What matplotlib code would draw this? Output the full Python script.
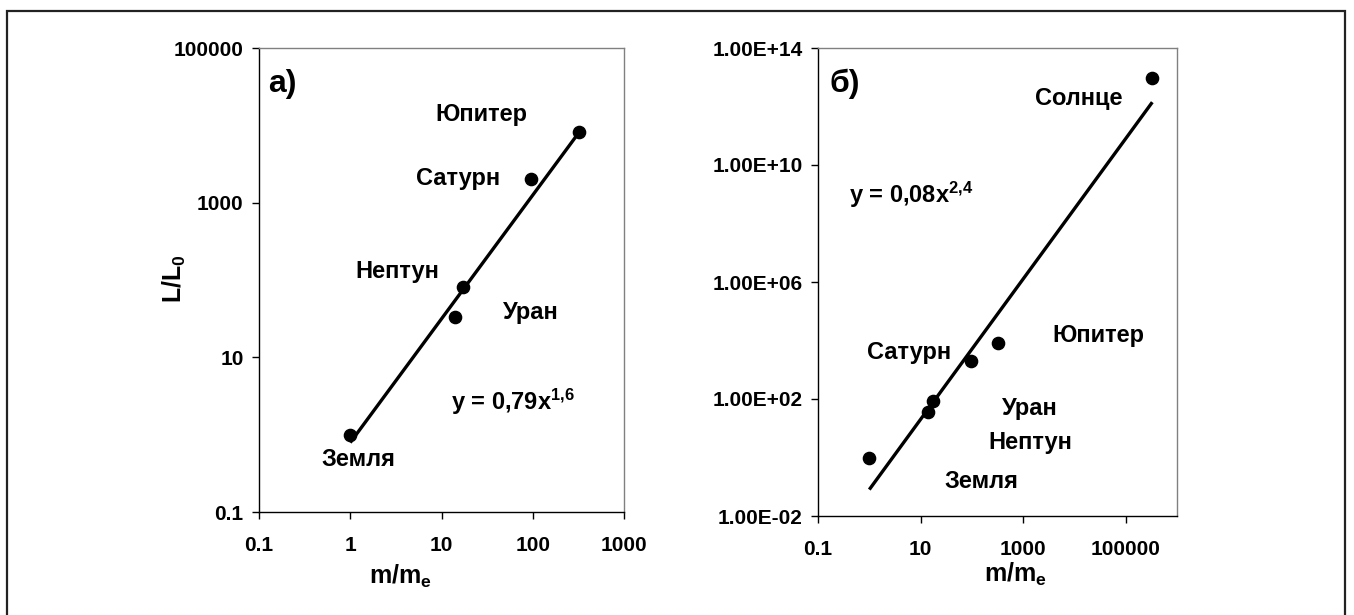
import matplotlib
matplotlib.use('Agg')
import numpy as np
import matplotlib.pyplot as plt
from matplotlib.patches import Rectangle

# planets (and the Sun on panel b): mass in Earth masses, luminosity in Earth units
names = ['Земля', 'Уран', 'Нептун', 'Сатурн', 'Юпитер']
mass = [1.0, 14.0, 17.3, 95.0, 320.0]
lum_a = [1.0, 33.0, 81.0, 2000.0, 8100.0]
lum_b = [1.0, 35.0, 85.0, 2000.0, 8100.0]
sun_mass = 3.3e5
sun_lum = 9.8e12

# trend lines printed on the chart: y = k * x^p, drawn between x0 and x1
fit_a = (0.79, 1.6, 1.0, 318.0)
fit_b = (0.08, 2.4, 1.0, 3.3e5)

xticks_a = [0.1, 1, 10, 100, 1000]
xticklabels_a = ['0.1', '1', '10', '100', '1000']
yticks_a = [0.1, 10, 1000, 100000]
yticklabels_a = ['0.1', '10', '1000', '100000']
xticks_b = [0.1, 10, 1000, 100000]
xticklabels_b = ['0.1', '10', '1000', '100000']
yticks_b = [1e-2, 1e2, 1e6, 1e10, 1e14]
yticklabels_b = ['1.00E-02', '1.00E+02', '1.00E+06', '1.00E+10', '1.00E+14']

plt.rcParams['font.family'] = ['Liberation Sans', 'DejaVu Sans']
plt.rcParams['font.weight'] = 'bold'
plt.rcParams['mathtext.fontset'] = 'custom'
plt.rcParams['mathtext.rm'] = 'Liberation Sans:bold'
plt.rcParams['mathtext.it'] = 'Liberation Sans:bold'
plt.rcParams['mathtext.bf'] = 'Liberation Sans:bold'

W, H = 1354, 615
fig = plt.figure(figsize=(W / 100, H / 100), dpi=100)

LBL = 17     # planet labels / equations
TCK = 15     # tick labels
AXL = 18     # axis titles


def px_axes(x0, x1, ytop, ybot):
    return fig.add_axes([x0 / W, (H - ybot) / H, (x1 - x0) / W, (ybot - ytop) / H])


def style(ax, xpad):
    ax.set_xscale('log')
    ax.set_yscale('log')
    for s in ['top', 'right']:
        ax.spines[s].set_color('#808080')
    for s in ['left', 'bottom']:
        ax.spines[s].set_color('black')
    for s in ax.spines.values():
        s.set_linewidth(1.0)
    ax.tick_params(axis='both', direction='out', length=5, width=1, labelsize=TCK)
    ax.tick_params(axis='x', pad=xpad)
    ax.tick_params(axis='y', pad=6)


def trend(ax, fit):
    k, p, x0, x1 = fit
    xs = np.array([x0, x1])
    ax.plot(xs, k * xs ** p, color='black', lw=2.4, solid_capstyle='butt', zorder=2)


txt = dict(fontsize=LBL, fontweight='bold', ha='center', va='center')

# ---- panel a
ax1 = px_axes(259, 624, 48, 512)
style(ax1, 12)
trend(ax1, fit_a)
ax1.plot(mass, lum_a, 'o', color='black', ms=8.8, zorder=3)
ax1.set_xlim(0.1, 1000)
ax1.set_ylim(0.1, 100000)
ax1.set_xticks(xticks_a, xticklabels_a)
ax1.set_yticks(yticks_a, yticklabels_a)
ax1.minorticks_off()
ax1.set_xlabel('m/m$_e$', fontsize=AXL, fontweight='bold', va='center')
ax1.xaxis.set_label_coords(0.386, -0.138)
ax1.set_ylabel('L/L$_0$', fontsize=AXL, fontweight='bold', va='center')
ax1.yaxis.set_label_coords(-0.233, 0.504)

pos_a = {'Юпитер': (0.608, 0.856), 'Сатурн': (0.545, 0.718), 'Нептун': (0.378, 0.519),
         'Уран': (0.745, 0.431), 'Земля': (0.271, 0.114)}
for n in names:
    ax1.text(*pos_a[n], n, transform=ax1.transAxes, **txt)
ax1.text(0.696, 0.237, 'y = 0,79x$^{1{,}6}$', transform=ax1.transAxes, **txt)
ax1.text(0.025, 0.922, 'а)', transform=ax1.transAxes, fontsize=23, fontweight='bold',
         ha='left', va='center')

# ---- panel b
ax2 = px_axes(818, 1177, 48, 516)
style(ax2, 12)
trend(ax2, fit_b)
ax2.plot(mass + [sun_mass], lum_b + [sun_lum], 'o', color='black', ms=8.8, zorder=3)
ax2.set_xlim(0.1, 1e6)
ax2.set_ylim(1e-2, 1e14)
ax2.set_xticks(xticks_b, xticklabels_b)
ax2.set_yticks(yticks_b, yticklabels_b)
ax2.minorticks_off()
ax2.set_xlabel('m/m$_e$', fontsize=AXL, fontweight='bold', va='center')
ax2.xaxis.set_label_coords(0.549, -0.124)

pos_b = {'Юпитер': (0.780, 0.385), 'Сатурн': (0.253, 0.350), 'Уран': (0.591, 0.229),
         'Нептун': (0.591, 0.156), 'Земля': (0.454, 0.073)}
for n in names:
    ax2.text(*pos_b[n], n, transform=ax2.transAxes, **txt)
ax2.text(0.727, 0.893, 'Солнце', transform=ax2.transAxes, **txt)
ax2.text(0.086, 0.686, 'y = 0,08x$^{2{,}4}$', transform=ax2.transAxes, fontsize=LBL,
         fontweight='bold', ha='left', va='center')
ax2.text(0.033, 0.924, 'б)', transform=ax2.transAxes, fontsize=23, fontweight='bold',
         ha='left', va='center')

# outer frame (its bottom edge falls outside the picture)
fig.add_artist(Rectangle((7 / W, -0.05), (1345 - 7) / W, (H - 11) / H + 0.05,
                         transform=fig.transFigure, fill=False, lw=1.6,
                         edgecolor='#222222'))

fig.savefig('out.png', dpi=100)
